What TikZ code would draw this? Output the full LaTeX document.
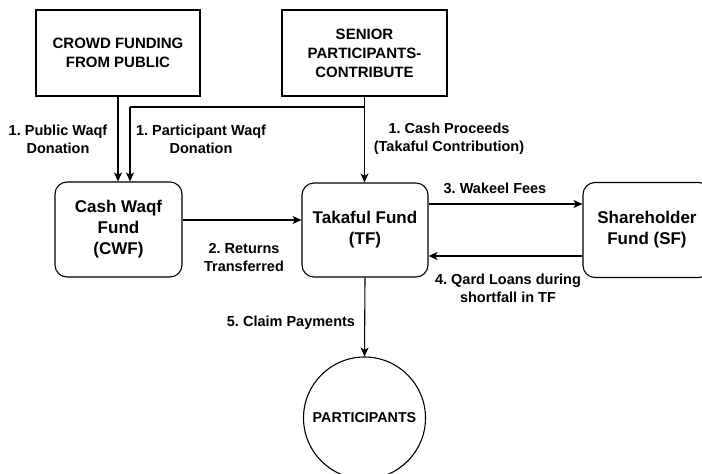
\documentclass[tikz,border=0pt]{standalone}
\usepackage{fontspec}
\setmainfont{Liberation Sans}
\usetikzlibrary{arrows.meta}
\frenchspacing
\begin{document}
\begin{tikzpicture}[x=1pt,y=-1pt,
  every node/.style={font=\bfseries},
  srcbox/.style={draw,line width=1.2pt,rectangle,inner sep=0pt,align=center,
    font=\bfseries\fontsize{15}{19}\selectfont},
  fundbox/.style={draw,line width=1.1pt,rectangle,rounded corners=12pt,inner sep=0pt,align=center,
    font=\bfseries\fontsize{17}{21}\selectfont},
  flowlabel/.style={align=center,inner sep=0pt,font=\bfseries\fontsize{14.5}{18}\selectfont},
  flow/.style={line width=1.1pt,-{Stealth[length=9pt,width=8pt,inset=2.5pt]}},
  plainline/.style={line width=1.1pt}]
\useasboundingbox (0,0) rectangle (702,474);

% source boxes
\node[srcbox,minimum width=164pt,minimum height=86pt] (crowd) at (118,53) {CROWD FUNDING\\FROM PUBLIC};
\node[srcbox,minimum width=165pt,minimum height=86pt] (senior) at (364.5,53) {SENIOR\\PARTICIPANTS-\\CONTRIBUTE};

% funds
\node[fundbox,minimum width=127pt,minimum height=95pt] (cwf) at (118.5,229.5) {Cash Waqf\\Fund\\(CWF)};
\node[fundbox,minimum width=126pt,minimum height=94pt] (tf) at (365,230) {Takaful Fund\\(TF)};
\node[fundbox,minimum width=128pt,minimum height=95pt] (sf) at (647,230) {Shareholder\\Fund (SF)};

% participants
\node[draw,line width=1.1pt,circle,minimum size=122pt,inner sep=0pt,
  font=\bfseries\fontsize{14.3}{17}\selectfont] (part) at (364.5,418) {PARTICIPANTS};

% connectors
\coordinate (branch) at (364.5,107);
\coordinate (branchend) at (130,107);
\draw[flow] (crowd.south) -- (crowd.south |- cwf.north);
\draw[flow] (senior.south) -- (senior.south |- tf.north);
\draw[plainline] (branch) -- (branchend);
\draw[flow] (branchend) -- (branchend |- cwf.north);
\draw[flow] ([yshift=9.5pt]cwf.east) -- ([yshift=9.5pt]cwf.east -| tf.west);
\draw[flow] ([yshift=26pt]tf.east) -- ([yshift=26pt]tf.east -| sf.west);
\draw[flow] ([yshift=-26pt]sf.west) -- ([yshift=-26pt]sf.west -| tf.east);
\draw[flow] (tf.south) -- (part.north);

% labels
\node[flowlabel] (l1) at (58,139) {1. Public Waqf\\Donation};
\node[flowlabel] (l2) at (201,139) {1. Participant Waqf\\Donation};
\node[flowlabel] (l3) at (449,139) {1. Cash Proceeds\\(Takaful Contribution)};
\node[flowlabel] (l4) at (244,258) {2. Returns\\Transferred};
\node[flowlabel] (l5) at (495,188) {3. Wakeel Fees};
\node[flowlabel] (l6) at (508,288) {4. Qard Loans during\\shortfall in TF};
\node[flowlabel] (l7) at (291,323) {5. Claim Payments};
\end{tikzpicture}
\end{document}
